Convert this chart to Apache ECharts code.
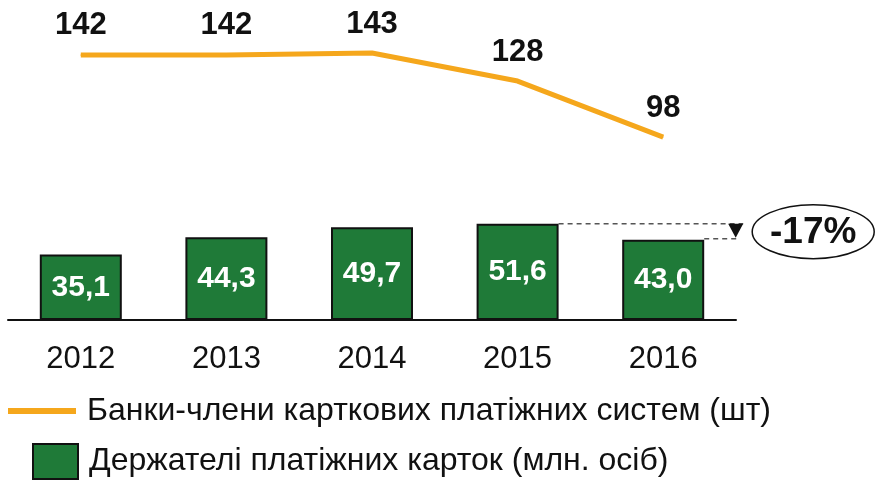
<!DOCTYPE html>
<html>
<head>
<meta charset="utf-8">
<script src="https://cdn.jsdelivr.net/npm/echarts@6/dist/echarts.min.js"></script>
<style>html,body{margin:0;padding:0;background:#fff}#c{width:875px;height:481px}</style>
</head>
<body>
<div id="c"></div>
<script>
var categories = ['2012', '2013', '2014', '2015', '2016'];
var banks = [142, 142, 143, 128, 98];
var holders = [35.1, 44.3, 49.7, 51.6, 43.0];
var bankName = 'Банки-члени карткових платіжних систем (шт)';
var holderName = 'Держателі платіжних карток (млн. осіб)';
var changeLabel = '-17%';

var FONT = '"Liberation Sans", Arial, sans-serif';
var chart = echarts.init(document.getElementById('c'));
var BAR_W = 82;
chart.setOption({
  animation: false,
  textStyle: { fontFamily: FONT },
  grid: { left: 8, right: 139, top: 40, bottom: 161 },
  legend: [
    { data: [bankName], left: 8, top: 395, padding: 0, orient: 'vertical', icon: 'rect', itemWidth: 68, itemHeight: 6,
      textStyle: { fontSize: 32, color: '#111', fontFamily: FONT, padding: [0, 0, 0, 6], lineHeight: 32 } },
    { data: [holderName], left: 32, top: 443, padding: 0, orient: 'vertical', icon: 'rect', itemWidth: 45, itemHeight: 35,
      textStyle: { fontSize: 32, color: '#111', fontFamily: FONT, padding: [2, 0, 0, 6], lineHeight: 32 } }
  ],
  xAxis: {
    type: 'category', data: categories,
    axisLine: { lineStyle: { color: '#111', width: 2 } },
    axisTick: { show: false },
    axisLabel: { fontSize: 31, color: '#111', margin: 24, fontFamily: FONT }
  },
  yAxis: { type: 'value', min: 0, max: 150, show: false, splitLine: { show: false } },
  series: [
    { name: holderName, type: 'bar', data: holders, barWidth: BAR_W,
      itemStyle: { color: '#1F7A38', borderColor: '#111', borderWidth: 2 },
      label: { show: true, position: 'inside', color: '#fff', fontSize: 30, fontWeight: 'bold', fontFamily: FONT,
        formatter: function (p) { return p.value.toFixed(1).replace('.', ','); } } },
    { name: bankName, type: 'line', data: banks, symbol: 'circle', symbolSize: 1, showSymbol: true,
      lineStyle: { color: '#F5A71C', width: 5 }, itemStyle: { color: '#F5A71C' },
      label: { show: true, position: 'top', distance: 13, color: '#111', fontSize: 31, fontWeight: 'bold', fontFamily: FONT } }
  ]
});

var p15 = chart.convertToPixel({ gridIndex: 0 }, [3, holders[3]]);
var p16 = chart.convertToPixel({ gridIndex: 0 }, [4, holders[4]]);
var xEnd = p16[0] + 80;
var cx = xEnd + 70, cy = (p15[1] + p16[1]) / 2;
chart.setOption({
  graphic: [
    { type: 'line', shape: { x1: p15[0] + BAR_W / 2, y1: p15[1], x2: xEnd, y2: p15[1] },
      style: { stroke: '#555', lineWidth: 1.5, lineDash: [5, 4] } },
    { type: 'line', shape: { x1: p16[0] + BAR_W / 2, y1: p16[1] - 1, x2: xEnd - 4, y2: p16[1] - 1 },
      style: { stroke: '#555', lineWidth: 1.5, lineDash: [5, 4] } },
    { type: 'polygon', shape: { points: [[xEnd - 15, p15[1]], [xEnd, p15[1]], [xEnd - 7.5, p16[1] - 2]] },
      style: { fill: '#111' } },
    { type: 'ellipse', shape: { cx: cx, cy: cy, rx: 61, ry: 27 },
      style: { fill: '#fff', stroke: '#111', lineWidth: 1.5 } },
    { type: 'text', x: cx, y: cy + 1, style: { text: changeLabel, font: 'bold 37px ' + FONT, fill: '#111', align: 'center', verticalAlign: 'middle' } }
  ]
});
</script>
</body>
</html>
